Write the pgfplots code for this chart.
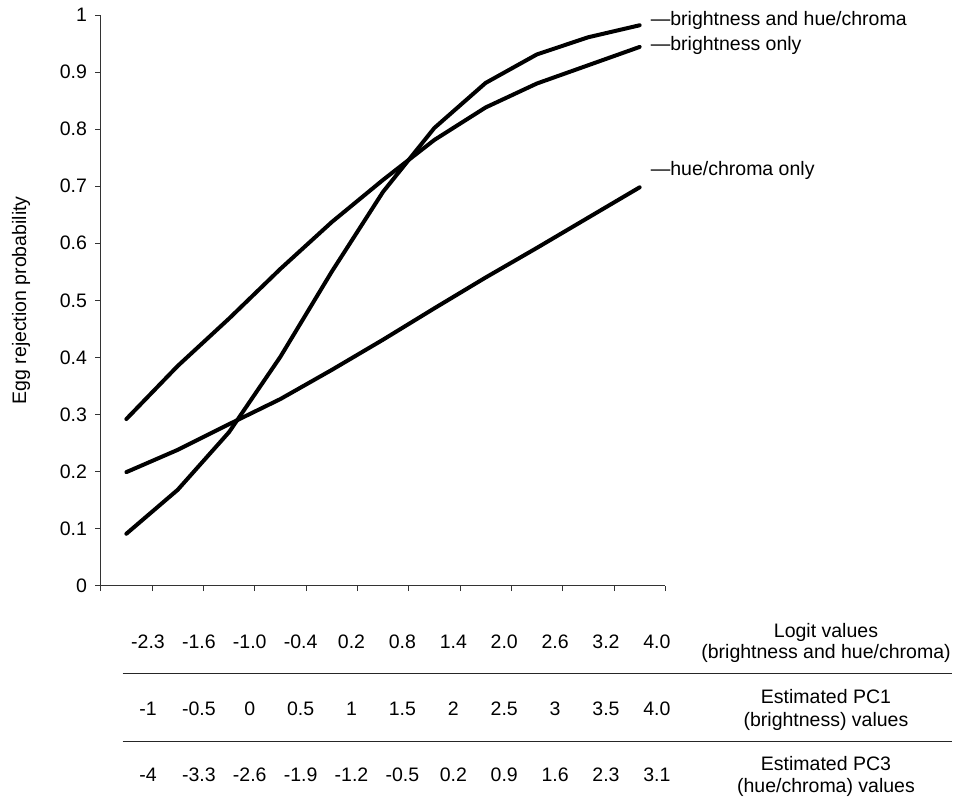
\documentclass[border=0pt]{standalone}
\usepackage{fontspec}
\setmainfont{Liberation Sans}
\usepackage{pgfplots}
\pgfplotsset{compat=1.18}
\begin{document}
\fontsize{19.5}{23.4}\selectfont
\begin{tikzpicture}[font=\fontsize{19.5}{23.4}\selectfont, tv/.style={anchor=base, inner sep=0pt}]
\begin{axis}[
  at={(0,0)}, anchor=south west,
  scale only axis, width=564.6pt, height=570.7pt,
  xmin=-0.5, xmax=10.5, ymin=0, ymax=1,
  axis x line=bottom, axis y line=left,
  axis line style={-, line width=0.9pt, black!80},
  xtick={-0.5,0.5,1.5,2.5,3.5,4.5,5.5,6.5,7.5,8.5,9.5,10.5},
  xticklabels={},
  ytick={0,0.1,0.2,0.3,0.4,0.5,0.6,0.7,0.8,0.9,1},
  yticklabels={0,0.1,0.2,0.3,0.4,0.5,0.6,0.7,0.8,0.9,1},
  tick align=outside,
  major tick length=5.5pt,
  tick style={line width=0.9pt, black!80},
  yticklabel style={font=\fontsize{19.5}{23.4}\selectfont, inner sep=0pt, xshift=-8pt},
  /pgf/number format/assume math mode=true,
  clip=false,
  curve/.style={black, line width=4pt, line cap=round, line join=round, no markers, sharp plot},
]
\addplot[curve] coordinates {(0,0.091)(1,0.168)(2,0.269)(3,0.401)(4,0.550)(5,0.690)(6,0.802)(7,0.881)(8,0.931)(9,0.961)(10,0.982)};
\addplot[curve] coordinates {(0,0.292)(1,0.385)(2,0.468)(3,0.555)(4,0.637)(5,0.711)(6,0.781)(7,0.838)(8,0.880)(9,0.912)(10,0.944)};
\addplot[curve] coordinates {(0,0.199)(1,0.238)(2,0.283)(3,0.327)(4,0.378)(5,0.431)(6,0.486)(7,0.540)(8,0.592)(9,0.645)(10,0.698)};

\node[anchor=west, inner sep=0pt] at (axis cs:10.215,0.991) {—brightness and hue/chroma};
\node[anchor=west, inner sep=0pt] at (axis cs:10.215,0.947) {—brightness only};
\node[anchor=west, inner sep=0pt] at (axis cs:10.215,0.728) {—hue/chroma only};

\node[rotate=90, anchor=center] at ([xshift=-79.7pt]rel axis cs:0,0.5) {Egg rejection probability};

% table rows (baseline-aligned)
\node[tv] at ([yshift=-62.8pt]axis cs:0.421,0) {-2.3};
\node[tv] at ([yshift=-62.8pt]axis cs:1.413,0) {-1.6};
\node[tv] at ([yshift=-62.8pt]axis cs:2.404,0) {-1.0};
\node[tv] at ([yshift=-62.8pt]axis cs:3.396,0) {-0.4};
\node[tv] at ([yshift=-62.8pt]axis cs:4.387,0) {0.2};
\node[tv] at ([yshift=-62.8pt]axis cs:5.379,0) {0.8};
\node[tv] at ([yshift=-62.8pt]axis cs:6.371,0) {1.4};
\node[tv] at ([yshift=-62.8pt]axis cs:7.362,0) {2.0};
\node[tv] at ([yshift=-62.8pt]axis cs:8.354,0) {2.6};
\node[tv] at ([yshift=-62.8pt]axis cs:9.345,0) {3.2};
\node[tv] at ([yshift=-62.8pt]axis cs:10.337,0) {4.0};

\node[tv] at ([yshift=-129.6pt]axis cs:0.421,0) {-1};
\node[tv] at ([yshift=-129.6pt]axis cs:1.413,0) {-0.5};
\node[tv] at ([yshift=-129.6pt]axis cs:2.404,0) {0};
\node[tv] at ([yshift=-129.6pt]axis cs:3.396,0) {0.5};
\node[tv] at ([yshift=-129.6pt]axis cs:4.387,0) {1};
\node[tv] at ([yshift=-129.6pt]axis cs:5.379,0) {1.5};
\node[tv] at ([yshift=-129.6pt]axis cs:6.371,0) {2};
\node[tv] at ([yshift=-129.6pt]axis cs:7.362,0) {2.5};
\node[tv] at ([yshift=-129.6pt]axis cs:8.354,0) {3};
\node[tv] at ([yshift=-129.6pt]axis cs:9.345,0) {3.5};
\node[tv] at ([yshift=-129.6pt]axis cs:10.337,0) {4.0};

\node[tv] at ([yshift=-195.3pt]axis cs:0.421,0) {-4};
\node[tv] at ([yshift=-195.3pt]axis cs:1.413,0) {-3.3};
\node[tv] at ([yshift=-195.3pt]axis cs:2.404,0) {-2.6};
\node[tv] at ([yshift=-195.3pt]axis cs:3.396,0) {-1.9};
\node[tv] at ([yshift=-195.3pt]axis cs:4.387,0) {-1.2};
\node[tv] at ([yshift=-195.3pt]axis cs:5.379,0) {-0.5};
\node[tv] at ([yshift=-195.3pt]axis cs:6.371,0) {0.2};
\node[tv] at ([yshift=-195.3pt]axis cs:7.362,0) {0.9};
\node[tv] at ([yshift=-195.3pt]axis cs:8.354,0) {1.6};
\node[tv] at ([yshift=-195.3pt]axis cs:9.345,0) {2.3};
\node[tv] at ([yshift=-195.3pt]axis cs:10.337,0) {3.1};

\node[tv] at ([xshift=725.3pt,yshift=-51.6pt]rel axis cs:0,0) {Logit values};
\node[tv] at ([xshift=725.3pt,yshift=-73.3pt]rel axis cs:0,0) {(brightness and hue/chroma)};
\node[tv] at ([xshift=725.3pt,yshift=-118.0pt]rel axis cs:0,0) {Estimated PC1};
\node[tv] at ([xshift=725.3pt,yshift=-141.3pt]rel axis cs:0,0) {(brightness) values};
\node[tv] at ([xshift=725.3pt,yshift=-184.3pt]rel axis cs:0,0) {Estimated PC3};
\node[tv] at ([xshift=725.3pt,yshift=-206.3pt]rel axis cs:0,0) {(hue/chroma) values};

\draw[line width=1pt, black!85] ([xshift=22pt,yshift=-87.6pt]rel axis cs:0,0) -- ([xshift=851.3pt,yshift=-87.6pt]rel axis cs:0,0);
\draw[line width=1pt, black!85] ([xshift=22pt,yshift=-156pt]rel axis cs:0,0) -- ([xshift=851.3pt,yshift=-156pt]rel axis cs:0,0);
\end{axis}
\pgfresetboundingbox
\useasboundingbox (-100.7pt,-213.3pt) rectangle (852.3pt,585.7pt);
\end{tikzpicture}
\end{document}
